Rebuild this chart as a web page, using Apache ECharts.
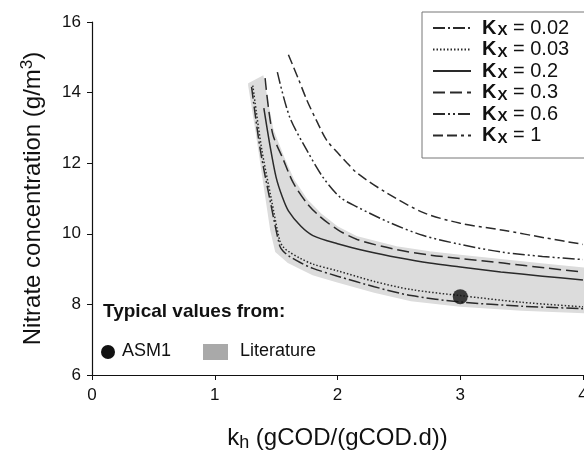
<!DOCTYPE html>
<html lang="en">
<head>
    <meta charset="UTF-8">
    <title>Nitrate concentration</title>
    <script src="https://cdn.jsdelivr.net/npm/echarts@6/dist/echarts.min.js"></script>
</head>
<body style="margin:0">
<div id="main" style="width:584px;height:450px;"></div>
<script type="text/javascript">
    // curves [kh, nitrate]
    var kx002 = [[1.30,14.16],[1.37,12.4],[1.45,10.96],[1.53,9.65],[1.56,9.5],[1.6,9.38],[1.7,9.18],[1.8,9.02],[2.0,8.8],[2.3,8.5],[2.6,8.25],[3.0,8.07],[3.5,7.95],[4.0,7.88]];
    var kx003 = [[1.31,14.2],[1.38,12.45],[1.46,11.0],[1.53,9.8],[1.56,9.62],[1.6,9.5],[1.7,9.3],[1.8,9.14],[2.0,8.95],[2.3,8.65],[2.6,8.42],[3.0,8.25],[3.5,8.06],[4.0,7.93]];
    var kx02 = [[1.40,13.56],[1.45,12.5],[1.5,11.6],[1.55,11.05],[1.6,10.65],[1.7,10.22],[1.8,9.95],[2.0,9.72],[2.25,9.5],[2.5,9.32],[2.75,9.17],[3.0,9.06],[3.33,8.92],[3.67,8.8],[4.0,8.69]];
    var kx03 = [[1.41,14.41],[1.47,12.86],[1.56,12.09],[1.64,11.44],[1.75,10.87],[1.86,10.48],[2.0,10.12],[2.16,9.84],[2.48,9.55],[2.75,9.4],[3.0,9.3],[3.35,9.17],[3.7,9.03],[4.0,8.92]];
    var kx06 = [[1.51,14.58],[1.61,13.31],[1.75,12.37],[1.88,11.61],[2.02,11.04],[2.16,10.76],[2.43,10.31],[2.7,9.95],[3.0,9.7],[3.34,9.48],[3.67,9.36],[4.0,9.27]];
    var kx1 = [[1.60,15.07],[1.68,14.4],[1.75,13.79],[1.83,13.2],[1.91,12.66],[2.0,12.3],[2.08,12.0],[2.16,11.72],[2.4,11.16],[2.7,10.6],[3.0,10.3],[3.35,10.1],[3.7,9.88],[4.0,9.7]];

    // literature band outline
    var bandUpper = [[1.28,14.25],[1.39,14.45],[1.44,13.5],[1.47,12.95],[1.56,12.15],[1.64,11.52],[1.75,10.95],[1.86,10.56],[2.0,10.18],[2.16,9.9],[2.48,9.62],[2.75,9.48],[3.0,9.38],[3.35,9.25],[3.7,9.12],[4.0,9.02]];
    var bandLower = [[1.28,14.2],[1.34,12.9],[1.40,11.5],[1.46,10.1],[1.5,9.5],[1.6,9.2],[1.8,8.85],[2.0,8.65],[2.3,8.36],[2.6,8.12],[3.0,7.96],[3.5,7.85],[4.0,7.78]];

    var asm1 = [[3.0, 8.22]];

    var kxNames = ['0.02', '0.03', '0.2', '0.3', '0.6', '1'];
    var kxData = [kx002, kx003, kx02, kx03, kx06, kx1];
    var kxDash = [[12,3,2,3], [1.5,2], 'solid', [12,5], [12,3,2,3,2,3], [10,4,10,4,3,4]];

    var myChart = echarts.init(document.getElementById('main'));
    var font = 'Liberation Sans, Arial, sans-serif';

    var series = [{
        type: 'custom',
        name: 'band',
        z: 1,
        silent: true,
        data: [0],
        renderItem: function (params, api) {
            var pts = [];
            bandUpper.forEach(function (p) { pts.push(api.coord(p)); });
            for (var i = bandLower.length - 1; i >= 0; i--) pts.push(api.coord(bandLower[i]));
            return {
                type: 'polygon',
                shape: {points: pts},
                style: {fill: '#dcdcdc', stroke: '#dcdcdc', lineWidth: 2}
            };
        }
    }];

    kxNames.forEach(function (n, i) {
        series.push({
            name: n,
            type: 'line',
            data: kxData[i],
            smooth: 0.3,
            symbol: 'none',
            z: 3,
            color: '#2a2a2a',
            lineStyle: {color: '#2a2a2a', width: 1.5, type: kxDash[i]}
        });
    });

    series.push({
        name: 'ASM1',
        type: 'scatter',
        data: asm1,
        symbolSize: 15,
        z: 4,
        itemStyle: {color: '#111'}
    });

    var option = {
        animation: false,
        backgroundColor: '#fff',
        grid: {left: 92, top: 22, right: 1, bottom: 75, outerBoundsMode: 'none'},
        legend: {
            data: kxNames,
            orient: 'vertical',
            left: 422,
            top: 12,
            width: 200,
            padding: [6, 40, 12, 10],
            borderColor: '#777',
            borderWidth: 1,
            itemWidth: 38,
            itemHeight: 14,
            itemGap: 1,
            itemStyle: {opacity: 0},
            formatter: function (n) {
                return '{k|K}{s|X}{v| = ' + n + '}';
            },
            textStyle: {
                fontFamily: font,
                color: '#111',
                rich: {
                    k: {fontSize: 20, fontWeight: 'bold', fontFamily: font, color: '#111', lineHeight: 21, padding: [0, 0, 0, 6]},
                    s: {fontSize: 15, fontWeight: 'bold', fontFamily: font, color: '#111', padding: [6, 0, 0, 1]},
                    v: {fontSize: 20, fontFamily: font, color: '#111', lineHeight: 21}
                }
            }
        },
        xAxis: {
            type: 'value',
            min: 0, max: 4, interval: 1,
            name: '{k|k}{s|h}{t| (gCOD/(gCOD.d))}',
            nameLocation: 'middle',
            nameGap: 49,
            nameTextStyle: {
                rich: {
                    k: {fontSize: 24, fontFamily: font, color: '#111'},
                    s: {fontSize: 18, fontFamily: font, color: '#111', padding: [10, 0, 0, 0]},
                    t: {fontSize: 24, fontFamily: font, color: '#111'}
                }
            },
            axisLine: {lineStyle: {color: '#111', width: 1.2}},
            axisTick: {length: 5, lineStyle: {color: '#111'}},
            axisLabel: {fontSize: 17, fontFamily: font, color: '#111', margin: 12},
            splitLine: {show: false}
        },
        yAxis: {
            type: 'value',
            min: 6, max: 16, interval: 2,
            name: '{t|Nitrate concentration (g/m}{s|3}{t|)}',
            nameLocation: 'middle',
            nameGap: 44,
            nameTextStyle: {
                rich: {
                    t: {fontSize: 24, fontFamily: font, color: '#111'},
                    s: {fontSize: 17, fontFamily: font, color: '#111', padding: [0, 0, 12, 0]}
                }
            },
            axisLine: {show: true, lineStyle: {color: '#111', width: 1.2}},
            axisTick: {show: true, length: 5, lineStyle: {color: '#111'}},
            axisLabel: {fontSize: 17, fontFamily: font, color: '#111', margin: 11},
            splitLine: {show: false}
        },
        graphic: [
            {type: 'text', left: 103, top: 302, style: {text: 'Typical values from:', font: 'bold 19px ' + font, fill: '#111'}},
            {type: 'circle', shape: {cx: 108, cy: 352, r: 7}, style: {fill: '#111'}},
            {type: 'text', left: 122, top: 342, style: {text: 'ASM1', font: '18px ' + font, fill: '#111'}},
            {type: 'rect', shape: {x: 203, y: 344, width: 25, height: 16}, style: {fill: '#a9a9a9'}},
            {type: 'text', left: 240, top: 342, style: {text: 'Literature', font: '18px ' + font, fill: '#111'}}
        ],
        series: series
    };

    option && myChart.setOption(option);
</script>
</body>
</html>
